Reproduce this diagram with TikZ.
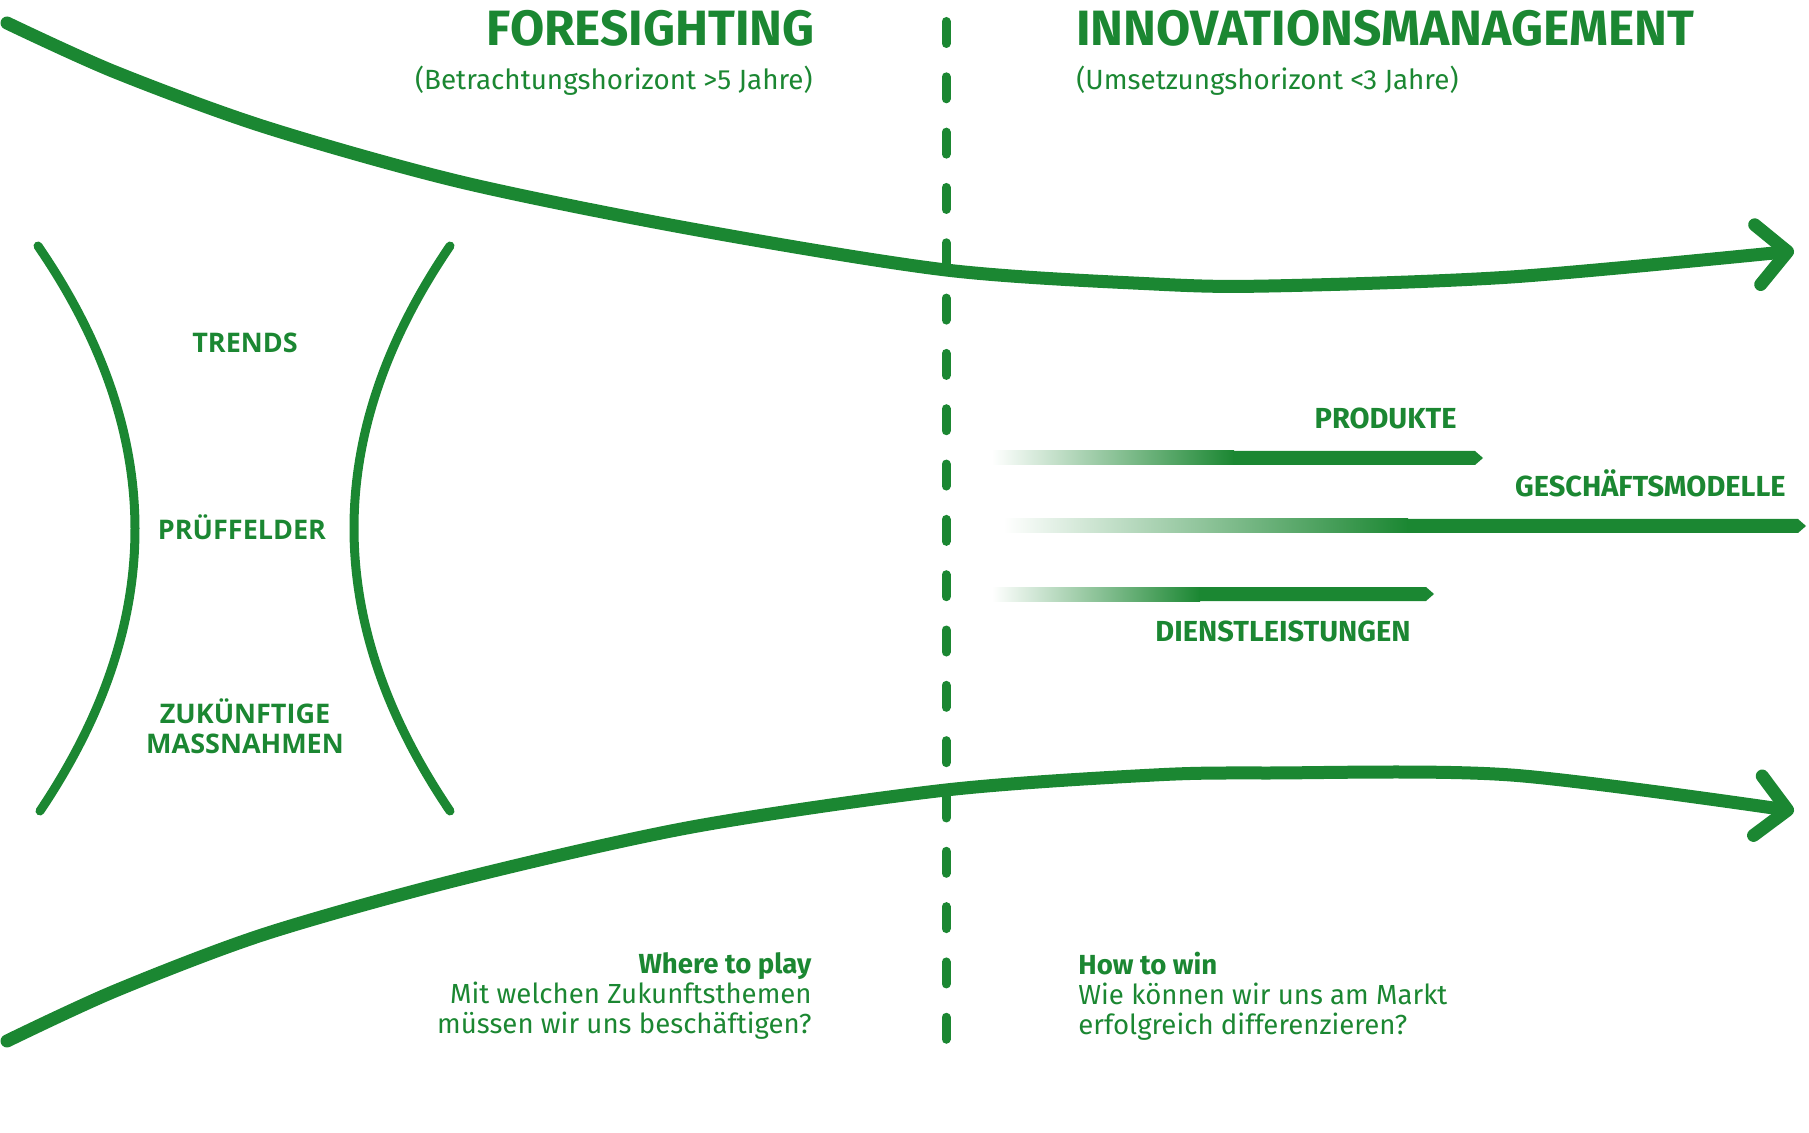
\documentclass[tikz,border=0pt]{standalone}
\usepackage{fontspec}
\setmainfont{Fira Sans}
\newfontfamily\capsfont{Open Sans}
\usetikzlibrary{arrows.meta}
\definecolor{fgreen}{RGB}{27,135,50}
\tikzset{
  flow/.style={fgreen, line width=6.5pt, line cap=round, line join=round,
    -{Straight Barb[length=15pt,width=30pt,round]}},
  bracket/.style={fgreen, line width=4.5pt, line cap=round},
  divider/.style={fgreen, line width=4.5pt, line cap=round, dash pattern=on 11pt off 16.66pt},
  headline/.style={fgreen, inner sep=0pt, font=\fontsize{24.8}{28}\selectfont\bfseries},
  subline/.style={fgreen, inner sep=0pt, font=\fontsize{13.9}{16}\selectfont},
  stage/.style={fgreen, inner sep=0pt, align=center, font=\capsfont\fontsize{13.5}{15}\selectfont\bfseries},
  barlabel/.style={fgreen, inner sep=0pt, font=\fontsize{14.5}{16}\selectfont\bfseries},
  question/.style={fgreen, inner sep=0pt, font=\fontsize{13.8}{15}\selectfont}
}
\begin{document}
\begin{tikzpicture}[x=0.5pt, y=-0.5pt]
	\useasboundingbox (0,0) rectangle (1809,1133);

	% divider
	\coordinate (divtop) at (946,21.5);
	\coordinate (divbot) at (946,1040);
	\draw[divider] (divtop) -- (divbot);

	% funnel
	\draw[flow] plot[smooth, tension=0.5] coordinates {(7,23) (115,72) (265,127) (461,182) (692,229) (946,270) (1154,284) (1269,286) (1511,277) (1794,251)};
	\draw[flow] plot[smooth, tension=0.5] coordinates {(7,1041) (115,991) (265,934) (461,879) (692,827) (946,790) (1154,775) (1269,773) (1511,775) (1794,811)};

	% brackets
	\draw[bracket] (38,246) .. controls (167,434) and (167,622) .. (40,811);
	\draw[bracket] (450,246) .. controls (322,434) and (322,622) .. (450,811);

	\node[stage] (trends) at (245,343) {TRENDS};
	\node[stage] (pruef) at (242,527) {PRÜFFELDER};
	\node[stage] (mass) at (245,726) {ZUKÜNFTIGE\\MASSNAHMEN};

	% headers
	\node[headline, anchor=base east] (fore) at (815,46) {FORESIGHTING};
	\node[subline, anchor=base east] (foresub) at (813,90) {(Betrachtungshorizont >5 Jahre)};
	\node[headline, anchor=base west] (inno) at (1076,46) {INNOVATIONSMANAGEMENT};
	\node[subline, anchor=base west] (innosub) at (1076,90) {(Umsetzungshorizont <3 Jahre)};

	% bars
	\foreach \a/\b/\c/\y in {992/1234/1483/458, 1004/1408/1806/526, 992/1200/1434/594}{
		\shade[left color=white, right color=fgreen] (\a,\y-7) rectangle (\b,\y+7);
		\fill[fgreen] (\b-1,\y-7) -- (\c-8,\y-7) -- (\c,\y) -- (\c-8,\y+7) -- (\b-1,\y+7) -- cycle;
	}
	\node[barlabel, anchor=base east] (prod) at (1457,429) {PRODUKTE};
	\node[barlabel, anchor=base east] (gesch) at (1786,497) {GESCHÄFTSMODELLE};
	\node[barlabel, anchor=base] (dienst) at (1283,641) {DIENSTLEISTUNGEN};

	% questions
	\node[question, anchor=north east, align=right] (where) at (812,952) {\textbf{Where to play}\\Mit welchen Zukunftsthemen\\müssen wir uns beschäftigen?};
	\node[question, anchor=north west, align=left] (how) at (1078,952) {\textbf{How to win}\\Wie können wir uns am Markt\\erfolgreich differenzieren?};
\end{tikzpicture}
\end{document}
